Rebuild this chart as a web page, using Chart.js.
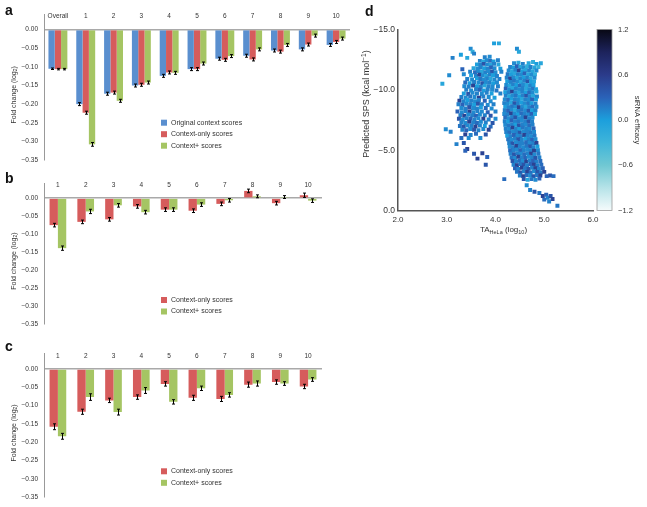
<!DOCTYPE html>
<html>
<head>
<meta charset="utf-8">
<script src="https://cdn.jsdelivr.net/npm/chart.js@4.4.1/dist/chart.umd.min.js"></script>
<style>
  body { margin: 0; background: #fff; }
  #wrap { position: relative; width: 647px; height: 507px; overflow: hidden; font-family: 'Liberation Sans', Arial, sans-serif; }
  canvas { position: absolute; }
  .panel { position: absolute; font-weight: bold; font-size: 14px; line-height: 14px; color: #111; }
</style>
</head>
<body>
<div id="wrap">
  <canvas id="chartA" width="352" height="170" style="left:0;top:0"></canvas>
  <canvas id="chartB" width="325" height="166" style="left:0;top:168px"></canvas>
  <canvas id="chartC" width="325" height="169" style="left:0;top:338px"></canvas>
  <canvas id="chartD" width="307" height="240" style="left:340px;top:0"></canvas>
  <div class="panel" style="left:5px;top:3px">a</div>
  <div class="panel" style="left:5px;top:171px">b</div>
  <div class="panel" style="left:5px;top:339px">c</div>
  <div class="panel" style="left:365px;top:4px">d</div>
</div>
<script>
// ---- data ----
const groupLabelsA = ['Overall', '1', '2', '3', '4', '5', '6', '7', '8', '9', '10'];
const groupLabelsBC = ['1', '2', '3', '4', '5', '6', '7', '8', '9', '10'];
const seriesNames = ['Original context scores', 'Context-only scores', 'Context+ scores'];
const foldTicks = [0, -0.05, -0.1, -0.15, -0.2, -0.25, -0.3, -0.35];

// panel a
const originalA = [-0.105, -0.200, -0.172, -0.150, -0.124, -0.106, -0.078, -0.070, -0.056, -0.053, -0.041];
const contextOnlyA = [-0.106, -0.223, -0.169, -0.148, -0.115, -0.106, -0.081, -0.080, -0.059, -0.040, -0.033];
const contextPlusA = [-0.106, -0.308, -0.191, -0.142, -0.116, -0.091, -0.071, -0.053, -0.041, -0.016, -0.024];
const originalErrA = [0.002, 0.004, 0.004, 0.004, 0.004, 0.004, 0.004, 0.004, 0.004, 0.004, 0.004];
const contextOnlyErrA = [0.002, 0.004, 0.004, 0.004, 0.004, 0.004, 0.004, 0.004, 0.004, 0.004, 0.004];
const contextPlusErrA = [0.002, 0.005, 0.004, 0.004, 0.004, 0.004, 0.004, 0.004, 0.004, 0.004, 0.004];

// panel b
const contextOnlyB = [-0.075, -0.066, -0.059, -0.023, -0.032, -0.035, -0.016, 0.020, -0.014, 0.008];
const contextPlusB = [-0.139, -0.037, -0.020, -0.039, -0.032, -0.018, -0.006, 0.005, 0.003, -0.007];
const contextOnlyErrB = [0.005, 0.005, 0.005, 0.005, 0.005, 0.005, 0.005, 0.005, 0.005, 0.006];
const contextPlusErrB = [0.006, 0.006, 0.005, 0.005, 0.005, 0.005, 0.005, 0.004, 0.004, 0.005];

// panel c
const contextOnlyC = [-0.158, -0.117, -0.086, -0.077, -0.041, -0.079, -0.082, -0.043, -0.036, -0.048];
const contextPlusC = [-0.184, -0.077, -0.118, -0.059, -0.090, -0.053, -0.071, -0.040, -0.040, -0.029];
const contextOnlyErrC = [0.008, 0.007, 0.006, 0.006, 0.006, 0.007, 0.007, 0.007, 0.006, 0.006];
const contextPlusErrC = [0.008, 0.009, 0.008, 0.008, 0.006, 0.006, 0.006, 0.007, 0.005, 0.005];

// panel d
const taTicks = [2, 3, 4, 5, 6];
const spsTicks = [-15, -10, -5, 0];
const efficacyTicks = [1.2, 0.6, 0, -0.6, -1.2];
const efficacyStops = [
  [-1.2, '#f5fbfc'], [-0.9, '#b6e3e8'], [-0.6, '#70c8d3'], [-0.3, '#3fb5da'], [0, '#1c9fdc'],
  [0.3, '#2a62b8'], [0.6, '#2b3b8a'], [0.9, '#1d235c'], [1.2, '#080814']
];
// [TA HeLa (log10), predicted SPS, siRNA efficacy]
const siRnaPoints = [
  // top outliers
  [3.97,-13.85,0],[4.07,-13.85,-0.1],[3.49,-13.4,0.1],[3.53,-13.15,-0.2],[3.56,-13.0,0.15],[3.29,-12.9,0],
  [3.12,-12.65,0.15],[3.42,-12.65,-0.1],[4.44,-13.4,0.1],[4.48,-13.15,-0.1],
  // left cluster
  [3.78,-12.7,0.15],[3.88,-12.75,0.1],
  [3.68,-12.4,0.15],[3.75,-12.35,-0.1],[3.82,-12.45,0.1],[3.89,-12.4,0.25],[3.96,-12.35,0],[4.05,-12.45,0.15],
  [3.62,-12.1,0],[3.69,-12.05,0.15],[3.76,-12.15,0.4],[3.83,-12.1,0.1],[3.9,-12.05,-0.1],[3.97,-12.15,0.15],[4.06,-12.1,-0.1],
  [3.55,-11.8,-0.1],[3.63,-11.75,0.1],[3.7,-11.85,0.15],[3.77,-11.8,0],[3.84,-11.75,0.15],[3.91,-11.85,0.3],[3.98,-11.8,0.1],[4.1,-11.75,0],
  [3.48,-11.5,0.15],[3.58,-11.45,0.25],[3.65,-11.55,0.1],[3.72,-11.5,-0.1],[3.79,-11.45,0.15],[3.86,-11.55,0.1],[3.93,-11.5,0.4],[4.0,-11.45,0.1],[4.12,-11.5,0.15],
  [3.35,-11.3,0.1],[3.5,-11.2,0],[3.6,-11.15,0.15],[3.67,-11.25,0.55],[3.74,-11.2,0.1],[3.81,-11.15,-0.1],[3.88,-11.25,0.15],[3.95,-11.2,0],[4.03,-11.15,0.15],
  [3.05,-11.2,0.1],[2.91,-10.5,-0.1],[3.32,-11.7,0.3],
  [3.42,-10.9,0.15],[3.52,-10.85,0.1],[3.62,-10.95,0],[3.69,-10.9,0.2],[3.76,-10.85,0.1],[3.83,-10.95,0.15],[3.9,-10.9,-0.1],[3.98,-10.85,0.1],[4.08,-10.9,0.15],
  [3.38,-10.6,0.25],[3.47,-10.55,0],[3.56,-10.65,0.15],[3.65,-10.6,0.1],[3.73,-10.55,0.4],[3.8,-10.65,0.1],[3.87,-10.6,0.15],[3.95,-10.55,0],[4.03,-10.6,0.1],
  [3.36,-10.3,0.1],[3.45,-10.25,0.15],[3.54,-10.35,0.55],[3.62,-10.3,0],[3.7,-10.25,0.15],[3.78,-10.35,-0.1],[3.86,-10.3,0.15],[3.94,-10.25,0.1],[4.05,-10.3,0.15],
  [3.4,-10.0,0.15],[3.5,-9.95,0.1],[3.6,-10.05,0.15],[3.68,-10.0,0.3],[3.76,-9.95,0],[3.84,-10.05,0.15],[3.93,-10.0,0.1],[4.02,-9.95,0.2],
  [3.35,-9.7,0],[3.44,-9.65,0.4],[3.53,-9.75,0.1],[3.62,-9.7,0.15],[3.72,-9.65,0.1],[3.82,-9.75,0.15],[3.92,-9.7,0],[4.1,-9.7,0.15],
  [3.3,-9.4,0.15],[3.39,-9.35,0.1],[3.48,-9.45,0.2],[3.57,-9.4,0.1],[3.66,-9.35,0.55],[3.75,-9.45,0.15],[3.86,-9.4,0.1],[3.98,-9.35,0],
  [3.26,-9.1,0.55],[3.34,-9.05,0.15],[3.42,-9.15,0],[3.5,-9.1,0.15],[3.58,-9.05,0.1],[3.66,-9.15,0.15],[3.78,-9.1,0.3],[3.9,-9.05,0.1],
  [3.24,-8.8,0.15],[3.32,-8.75,0.3],[3.4,-8.85,0.1],[3.48,-8.8,0.15],[3.56,-8.75,0],[3.64,-8.85,0.4],[3.72,-8.8,0.15],[3.84,-8.75,0.1],[3.96,-8.8,0.15],
  [3.3,-8.5,0.1],[3.38,-8.45,0.15],[3.46,-8.55,0.4],[3.54,-8.5,0.1],[3.62,-8.45,0.15],[3.7,-8.55,0],[3.8,-8.5,0.25],[3.92,-8.45,0.1],
  [3.22,-8.2,0.3],[3.31,-8.15,0.1],[3.39,-8.25,0.15],[3.47,-8.2,0.55],[3.55,-8.15,0.1],[3.63,-8.25,0.15],[3.72,-8.2,0.1],[3.84,-8.15,0.3],[4.0,-8.2,0.15],
  [3.28,-7.9,0.15],[3.36,-7.85,0.55],[3.44,-7.95,0.1],[3.52,-7.9,0.15],[3.6,-7.85,0.3],[3.68,-7.95,0.1],[3.78,-7.9,0.15],[3.9,-7.85,0.4],
  [3.25,-7.6,0.4],[3.33,-7.55,0.1],[3.41,-7.65,0.15],[3.49,-7.6,0.3],[3.57,-7.55,0.15],[3.65,-7.65,0.1],[3.75,-7.6,0.55],[3.86,-7.55,0.15],[4.0,-7.6,0.1],
  [3.3,-7.3,0.15],[3.38,-7.25,0.1],[3.46,-7.35,0.55],[3.54,-7.3,0.15],[3.62,-7.25,0.25],[3.7,-7.35,0.1],[3.8,-7.3,0.15],[3.94,-7.25,0.4],
  [3.27,-7.0,0.2],[3.35,-6.95,0.4],[3.43,-7.05,0.1],[3.51,-7.0,0.15],[3.59,-6.95,0.55],[3.68,-7.05,0.15],[3.78,-7.0,0],[3.9,-6.95,0.25],
  [2.98,-6.73,0.1],[3.08,-6.52,0.15],[3.32,-6.7,0.15],[3.4,-6.65,0.3],[3.48,-6.75,0.1],[3.56,-6.7,0.4],[3.65,-6.65,0.15],[3.75,-6.75,0.1],[3.86,-6.7,0.55],
  [3.38,-6.3,0.55],[3.49,-6.26,0.15],[3.6,-6.35,0.25],[3.69,-6.0,0.1],[3.8,-6.3,0.4],[3.45,-6.0,0.1],
  [3.2,-5.5,0.15],[3.35,-5.6,0.4],[3.3,-6.0,0.25],[3.42,-5.1,0.55],[3.56,-4.7,0.4],[3.73,-4.75,0.55],[3.83,-4.43,0.3],
  [3.63,-4.3,0.55],[3.8,-3.8,0.4],[3.38,-4.95,0.3],
  // right cluster
  [4.38,-12.2,0.1],[4.47,-12.25,-0.1],[4.56,-12.15,0.15],[4.68,-12.2,-0.1],[4.77,-12.3,-0.2],[4.84,-12.15,0],[4.93,-12.2,-0.1],
  [4.3,-11.9,0.15],[4.37,-11.85,0],[4.44,-11.95,0.3],[4.51,-11.9,-0.1],[4.58,-11.85,0.1],[4.65,-11.95,-0.2],[4.72,-11.9,0.15],[4.8,-11.85,-0.1],[4.88,-11.9,-0.3],
  [4.27,-11.6,0.1],[4.34,-11.55,-0.1],[4.41,-11.65,0.15],[4.48,-11.6,0.55],[4.55,-11.55,0],[4.62,-11.65,-0.1],[4.69,-11.6,0.15],[4.76,-11.55,-0.1],[4.84,-11.6,0.1],
  [4.25,-11.3,0.2],[4.32,-11.25,0],[4.39,-11.35,-0.1],[4.46,-11.3,0.15],[4.53,-11.25,0.1],[4.6,-11.35,0.3],[4.67,-11.3,-0.1],[4.74,-11.25,0.1],[4.81,-11.3,-0.2],
  [4.23,-11.0,0.15],[4.3,-10.95,0.55],[4.37,-11.05,0.1],[4.44,-11.0,-0.1],[4.51,-10.95,0.15],[4.58,-11.05,0],[4.65,-11.0,0.15],[4.72,-10.95,-0.1],[4.8,-11.0,0.1],
  [4.24,-10.7,0],[4.31,-10.65,0.15],[4.38,-10.75,0.2],[4.45,-10.7,0.1],[4.52,-10.65,-0.1],[4.59,-10.75,0.15],[4.66,-10.7,0.4],[4.73,-10.65,0],[4.79,-10.7,-0.1],
  [4.22,-10.4,0.1],[4.29,-10.35,-0.1],[4.36,-10.45,0.15],[4.43,-10.4,0],[4.5,-10.35,0.25],[4.57,-10.45,0.1],[4.64,-10.4,-0.1],[4.71,-10.35,0.15],[4.78,-10.4,0],
  [4.21,-10.1,0.3],[4.28,-10.05,0.1],[4.35,-10.15,-0.1],[4.42,-10.1,0.15],[4.49,-10.05,0.1],[4.56,-10.15,0.15],[4.63,-10.1,-0.1],[4.7,-10.05,0.1],[4.77,-10.1,0.2],[4.83,-10.05,0],
  [4.2,-9.8,0],[4.27,-9.75,0.15],[4.34,-9.85,0.55],[4.41,-9.8,0.1],[4.48,-9.75,-0.1],[4.55,-9.85,0.15],[4.62,-9.8,0],[4.69,-9.75,0.25],[4.76,-9.8,0.1],[4.84,-9.85,-0.1],
  [4.21,-9.5,0.15],[4.28,-9.45,-0.1],[4.35,-9.55,0.1],[4.42,-9.5,0.2],[4.49,-9.45,0],[4.56,-9.55,0.15],[4.63,-9.5,0.4],[4.7,-9.45,0.1],[4.77,-9.5,-0.1],[4.85,-9.45,0.15],
  [4.19,-9.2,0.1],[4.26,-9.15,0.25],[4.33,-9.25,0],[4.4,-9.2,0.15],[4.47,-9.15,0.1],[4.54,-9.25,-0.1],[4.61,-9.2,0.15],[4.68,-9.15,0.1],[4.75,-9.2,0.3],[4.83,-9.2,0],
  [4.18,-8.9,0.15],[4.25,-8.85,0.1],[4.32,-8.95,-0.1],[4.39,-8.9,0.4],[4.46,-8.85,0.15],[4.53,-8.95,0],[4.6,-8.9,0.1],[4.67,-8.85,0.2],[4.74,-8.9,0],[4.82,-8.85,0.15],
  [4.2,-8.6,0],[4.27,-8.55,0.15],[4.34,-8.65,0.2],[4.41,-8.6,0.1],[4.48,-8.55,0.55],[4.55,-8.65,0.1],[4.62,-8.6,-0.1],[4.69,-8.55,0.15],[4.76,-8.6,0.25],[4.84,-8.6,0.1],
  [4.19,-8.3,0.15],[4.26,-8.25,0.3],[4.33,-8.35,0.1],[4.4,-8.3,-0.1],[4.47,-8.25,0.15],[4.54,-8.35,0.2],[4.61,-8.3,0.1],[4.68,-8.25,0.4],[4.75,-8.3,0],[4.82,-8.3,0.15],
  [4.18,-8.0,0.1],[4.25,-7.95,0.15],[4.32,-8.05,0.55],[4.39,-8.0,0.1],[4.46,-7.95,0],[4.53,-8.05,0.25],[4.6,-8.0,0.15],[4.67,-7.95,0.1],[4.74,-8.0,0.3],[4.81,-8.0,-0.1],
  [4.2,-7.7,0.25],[4.27,-7.65,0.1],[4.34,-7.75,0.15],[4.41,-7.7,0.4],[4.48,-7.65,0.1],[4.55,-7.75,0.15],[4.62,-7.7,0.55],[4.69,-7.65,0.15],[4.76,-7.7,0.1],
  [4.19,-7.4,0.15],[4.26,-7.35,0],[4.33,-7.45,0.3],[4.4,-7.4,0.15],[4.47,-7.35,0.2],[4.54,-7.45,0.1],[4.61,-7.4,0.15],[4.68,-7.35,0.4],[4.75,-7.4,0.15],
  [4.2,-7.1,0.1],[4.27,-7.05,0.2],[4.34,-7.15,0.15],[4.41,-7.1,0],[4.48,-7.05,0.4],[4.55,-7.15,0.15],[4.62,-7.1,0.1],[4.69,-7.05,0.25],[4.76,-7.1,0.15],
  [4.21,-6.8,0.15],[4.28,-6.75,0.1],[4.35,-6.85,0.55],[4.42,-6.8,0.15],[4.49,-6.75,0],[4.56,-6.85,0.2],[4.63,-6.8,0.15],[4.7,-6.75,0.1],[4.78,-6.8,0.3],
  [4.22,-6.5,0.15],[4.29,-6.45,0.25],[4.36,-6.55,0.1],[4.43,-6.5,0.15],[4.5,-6.45,0.4],[4.57,-6.55,0.1],[4.64,-6.5,0.15],[4.71,-6.45,0.2],[4.79,-6.5,0.1],
  [4.24,-6.2,0],[4.31,-6.15,0.15],[4.38,-6.25,0.3],[4.45,-6.2,0.1],[4.52,-6.15,0.15],[4.59,-6.25,0.55],[4.66,-6.2,0.15],[4.73,-6.15,0.1],[4.8,-6.2,0.2],
  [4.26,-5.9,0.2],[4.33,-5.85,0.1],[4.4,-5.95,0.15],[4.47,-5.9,0.4],[4.54,-5.85,0.15],[4.61,-5.95,0],[4.68,-5.9,0.15],[4.75,-5.85,0.3],[4.82,-5.9,0.1],
  [4.28,-5.6,0.15],[4.35,-5.55,0.4],[4.42,-5.65,0.1],[4.49,-5.6,0.15],[4.56,-5.55,0.15],[4.63,-5.65,0.25],[4.7,-5.6,0.1],[4.77,-5.55,0.15],[4.84,-5.6,0.55],
  [4.29,-5.3,0.1],[4.36,-5.25,0.15],[4.43,-5.35,0.55],[4.5,-5.3,0.15],[4.57,-5.25,0.1],[4.64,-5.35,0.2],[4.71,-5.3,0.4],[4.78,-5.25,0.15],[4.86,-5.3,0],
  [4.3,-5.0,0.25],[4.37,-4.95,0.15],[4.44,-5.05,0.1],[4.51,-5.0,0.3],[4.58,-4.95,0.15],[4.65,-5.05,0.1],[4.72,-5.0,0.15],[4.79,-4.95,0.55],[4.87,-5.0,0.1],
  [4.31,-4.7,0.15],[4.38,-4.65,0.4],[4.45,-4.75,0.15],[4.52,-4.7,0.1],[4.59,-4.65,0.25],[4.66,-4.75,0.15],[4.73,-4.7,0.55],[4.8,-4.65,0.1],[4.88,-4.7,0.2],
  [4.33,-4.4,0.2],[4.4,-4.35,0.1],[4.47,-4.45,0.55],[4.54,-4.4,0.15],[4.61,-4.35,0.3],[4.68,-4.45,0.1],[4.75,-4.4,0.15],[4.82,-4.35,0.4],[4.9,-4.4,0.15],
  [4.35,-4.1,0.4],[4.42,-4.05,0.15],[4.49,-4.15,0.25],[4.56,-4.1,0.1],[4.63,-4.05,0.55],[4.7,-4.15,0.15],[4.77,-4.1,0.3],[4.84,-4.05,0.15],[4.92,-4.1,0.25],
  [4.37,-3.8,0.15],[4.44,-3.75,0.55],[4.51,-3.85,0.2],[4.58,-3.8,0.4],[4.65,-3.75,0.15],[4.72,-3.85,0.3],[4.79,-3.8,0.55],[4.86,-3.75,0.15],[4.94,-3.8,0.25],
  [4.4,-3.5,0.3],[4.47,-3.45,0.15],[4.54,-3.55,0.55],[4.61,-3.5,0.2],[4.68,-3.45,0.4],[4.75,-3.55,0.15],[4.82,-3.5,0.55],[4.89,-3.45,0.15],[4.97,-3.5,0.3],
  [4.44,-3.2,0.2],[4.51,-3.15,0.4],[4.58,-3.25,0.15],[4.65,-3.2,0.55],[4.72,-3.15,0.25],[4.79,-3.25,0.1],[4.86,-3.2,0.4],[4.93,-3.15,0.2],[5.0,-3.2,0.55],
  [4.5,-2.9,0.15],[4.57,-2.85,0.55],[4.64,-2.95,0.25],[4.71,-2.9,0.1],[4.78,-2.85,0.4],[4.85,-2.95,0.2],[4.92,-2.9,0.55],[5.05,-2.85,0.3],[5.12,-2.9,0.4],[5.19,-2.85,0.25],
  [4.58,-2.6,0.4],[4.66,-2.55,-0.1],[4.74,-2.6,0.2],[4.82,-2.55,0.1],[4.9,-2.65,0.3],[4.18,-2.6,0.25],
  // tail
  [4.64,-2.1,0.1],[4.71,-1.7,0.15],[4.8,-1.55,0.4],[4.9,-1.45,0.2],[4.97,-1.2,0.55],[5.04,-1.3,0.3],[5.07,-1.05,0.15],
  [5.13,-1.2,0.4],[5.17,-0.95,0.55],[5.0,-0.9,0.25],[5.1,-0.75,0.15],[5.27,-0.4,0.2]
];

// ---- helpers ----
const FONT = "'Liberation Sans', Arial, sans-serif";
const TXT = '#333';
const BLUE = '#5a8fcf', RED = '#d65c5c', GREEN = '#a5c563';

function signed(v, d) {
  const s = Math.abs(v).toFixed(d);
  return v < -1e-9 ? '\u2212' + s : s;
}

function hexRgb(h) {
  return [1, 3, 5].map(i => parseInt(h.slice(i, i + 2), 16));
}

function colorFor(e) {
  for (let i = 1; i < efficacyStops.length; i++) {
    const [v0, c0] = efficacyStops[i - 1], [v1, c1] = efficacyStops[i];
    if (e <= v1) {
      const t = Math.max(0, (e - v0) / (v1 - v0));
      const a = hexRgb(c0), b = hexRgb(c1);
      const m = a.map((x, k) => Math.round(x + (b[k] - x) * t));
      return `rgb(${m[0]},${m[1]},${m[2]})`;
    }
  }
  return efficacyStops[efficacyStops.length - 1][1];
}

// draws text made of runs (for sub/superscripts), centred on cx,cy
function drawRuns(ctx, runs, cx, cy, rot) {
  ctx.save();
  ctx.translate(cx, cy);
  ctx.rotate(rot || 0);
  ctx.textBaseline = 'middle';
  ctx.textAlign = 'left';
  ctx.fillStyle = TXT;
  let w = 0;
  runs.forEach(r => { ctx.font = `${r.size}px ${FONT}`; r.w = ctx.measureText(r.t).width; w += r.w; });
  let x = -w / 2;
  runs.forEach(r => { ctx.font = `${r.size}px ${FONT}`; ctx.fillText(r.t, x, r.dy || 0); x += r.w; });
  ctx.restore();
}

// error bars, group labels, legend and y title for the bar panels
const barExtras = {
  id: 'panelBits',
  afterDatasetsDraw(chart) {
    const ctx = chart.ctx, ys = chart.scales.y;
    ctx.save();
    ctx.strokeStyle = '#000';
    ctx.lineWidth = 1;
    chart.data.datasets.forEach((ds, i) => {
      chart.getDatasetMeta(i).data.forEach((bar, j) => {
        const v = ds.data[j], e = ds.errors[j];
        const x = Math.round(bar.x) + 0.5;
        const y1 = ys.getPixelForValue(v - e), y2 = ys.getPixelForValue(v + e);
        ctx.beginPath();
        ctx.moveTo(x, y1); ctx.lineTo(x, y2);
        ctx.moveTo(x - 1.5, y1); ctx.lineTo(x + 1.5, y1);
        ctx.moveTo(x - 1.5, y2); ctx.lineTo(x + 1.5, y2);
        ctx.stroke();
      });
    });
    ctx.restore();
  },
  afterDraw(chart, args, o) {
    const ctx = chart.ctx, xs = chart.scales.x, ys = chart.scales.y, area = chart.chartArea;
    ctx.save();
    ctx.fillStyle = TXT;
    ctx.font = `6.5px ${FONT}`;
    ctx.textAlign = 'center';
    ctx.textBaseline = 'middle';
    chart.data.labels.forEach((l, i) => ctx.fillText(l, xs.getPixelForValue(i), area.top + 2.5));

    ctx.font = `7px ${FONT}`;
    ctx.textAlign = 'left';
    chart.data.datasets.forEach((ds, i) => {
      const yy = area.top + o.legendY + i * 11.5;
      ctx.fillStyle = ds.backgroundColor;
      ctx.fillRect(161, yy - 3, 6, 6);
      ctx.fillStyle = TXT;
      ctx.fillText(ds.label, 171, yy);
    });
    ctx.restore();

    const yc = (ys.getPixelForValue(0) + ys.getPixelForValue(-0.35)) / 2;
    drawRuns(ctx, [
      {t: 'Fold change (log', size: 7},
      {t: '2', size: 5, dy: 1.5},
      {t: ')', size: 7}
    ], 14, yc, -Math.PI / 2);
  }
};

function barPanel(id, labels, series, opt) {
  return new Chart(document.getElementById(id), {
    type: 'bar',
    data: {
      labels: labels,
      datasets: series.map(s => ({
        label: s.label, data: s.data, errors: s.err,
        backgroundColor: s.color, borderWidth: 0,
        barPercentage: 1, categoryPercentage: opt.cat
      }))
    },
    options: {
      responsive: false,
      animation: false,
      devicePixelRatio: 1,
      layout: {padding: {top: opt.top, bottom: opt.bottom, right: opt.right, left: 0}},
      plugins: {
        legend: {display: false},
        tooltip: {enabled: false},
        panelBits: {legendY: opt.legendY}
      },
      scales: {
        x: {display: false},
        y: {
          min: -0.35,
          max: 0.042,
          z: 1,
          afterFit: s => { s.width = 44; },
          afterBuildTicks: s => { s.ticks = foldTicks.map(v => ({value: v})); },
          ticks: {
            callback: v => signed(v, 2),
            font: {family: FONT, size: 6.5},
            color: TXT,
            padding: 6
          },
          grid: {
            drawTicks: false,
            color: c => (c.tick && Math.abs(c.tick.value) < 1e-9) ? '#a9a9a9' : 'rgba(0,0,0,0)',
            lineWidth: 1.5
          },
          border: {color: '#999', width: 1}
        }
      }
    },
    plugins: [barExtras]
  });
}

barPanel('chartA', groupLabelsA, [
  {label: seriesNames[0], data: originalA, err: originalErrA, color: BLUE},
  {label: seriesNames[1], data: contextOnlyA, err: contextOnlyErrA, color: RED},
  {label: seriesNames[2], data: contextPlusA, err: contextPlusErrA, color: GREEN}
], {cat: 0.68, top: 14, bottom: 10, right: 2, legendY: 108.7});

barPanel('chartB', groupLabelsBC, [
  {label: seriesNames[1], data: contextOnlyB, err: contextOnlyErrB, color: RED},
  {label: seriesNames[2], data: contextPlusB, err: contextPlusErrB, color: GREEN}
], {cat: 0.6, top: 15, bottom: 5.5, right: 3, legendY: 117});

barPanel('chartC', groupLabelsBC, [
  {label: seriesNames[1], data: contextOnlyC, err: contextOnlyErrC, color: RED},
  {label: seriesNames[2], data: contextPlusC, err: contextPlusErrC, color: GREEN}
], {cat: 0.6, top: 15.5, bottom: 8, right: 3, legendY: 117.8});

// ---- panel d ----
const scatterExtras = {
  id: 'scatterBits',
  afterDraw(chart) {
    const ctx = chart.ctx, cb = chart.scales.cb, area = chart.chartArea;
    const top = cb.getPixelForValue(efficacyTicks[0]);
    const bot = cb.getPixelForValue(efficacyTicks[efficacyTicks.length - 1]);
    const g = ctx.createLinearGradient(0, bot, 0, top);
    efficacyStops.forEach(([v, c]) => g.addColorStop((v + 1.2) / 2.4, c));
    ctx.save();
    ctx.fillStyle = g;
    ctx.fillRect(area.right + 4, top, 15, bot - top);
    ctx.strokeStyle = '#9a9a9a';
    ctx.lineWidth = 0.8;
    ctx.strokeRect(area.right + 4, top, 15, bot - top);
    ctx.restore();

    drawRuns(ctx, [
      {t: 'Predicted SPS (kcal mol', size: 9},
      {t: '\u22121', size: 6.5, dy: -3},
      {t: ')', size: 9}
    ], 27, 104, -Math.PI / 2);

    drawRuns(ctx, [
      {t: 'TA', size: 8},
      {t: 'HeLa', size: 5.5, dy: 2},
      {t: ' (log', size: 8},
      {t: '10', size: 5.5, dy: 2},
      {t: ')', size: 8}
    ], (area.left + area.right) / 2 + 8, 230, 0);
  }
};

new Chart(document.getElementById('chartD'), {
  type: 'scatter',
  data: {
    datasets: [{
      data: siRnaPoints.map(p => ({x: p[0], y: p[1]})),
      backgroundColor: siRnaPoints.map(p => colorFor(p[2])),
      pointStyle: 'rect',
      pointRadius: 2.8,
      borderWidth: 0
    }]
  },
  options: {
    responsive: false,
    animation: false,
    devicePixelRatio: 1,
    layout: {padding: {top: 20, left: 0, right: 0, bottom: 0}},
    plugins: {legend: {display: false}, tooltip: {enabled: false}},
    scales: {
      x: {
        type: 'linear', min: 2, max: 6,
        afterFit: s => { s.height = 28; },
        afterBuildTicks: s => { s.ticks = taTicks.map(v => ({value: v})); },
        ticks: {callback: v => signed(v, 1), font: {family: FONT, size: 8}, color: TXT, padding: 4},
        grid: {display: false, drawTicks: false},
        border: {color: '#555', width: 1.5}
      },
      y: {
        type: 'linear', min: -15, max: 0, reverse: true,
        afterFit: s => { s.width = 58; },
        afterBuildTicks: s => { s.ticks = spsTicks.map(v => ({value: v})); },
        ticks: {callback: v => signed(v, 1), font: {family: FONT, size: 8.5}, color: TXT, padding: 3},
        grid: {display: false, drawTicks: false},
        border: {color: '#555', width: 1.5}
      },
      cb: {
        type: 'linear', position: 'right', min: -1.2, max: 1.2,
        afterFit: s => { s.width = 54; },
        afterBuildTicks: s => { s.ticks = efficacyTicks.map(v => ({value: v})); },
        ticks: {callback: v => signed(v, 1), font: {family: FONT, size: 7.5}, color: TXT, padding: 25},
        grid: {display: false, drawTicks: false},
        border: {display: false},
        title: {display: true, text: 'siRNA efficacy', font: {family: FONT, size: 7.5}, color: TXT, padding: {top: 5.5, bottom: 0}}
      }
    }
  },
  plugins: [scatterExtras]
});
</script>
</body>
</html>
